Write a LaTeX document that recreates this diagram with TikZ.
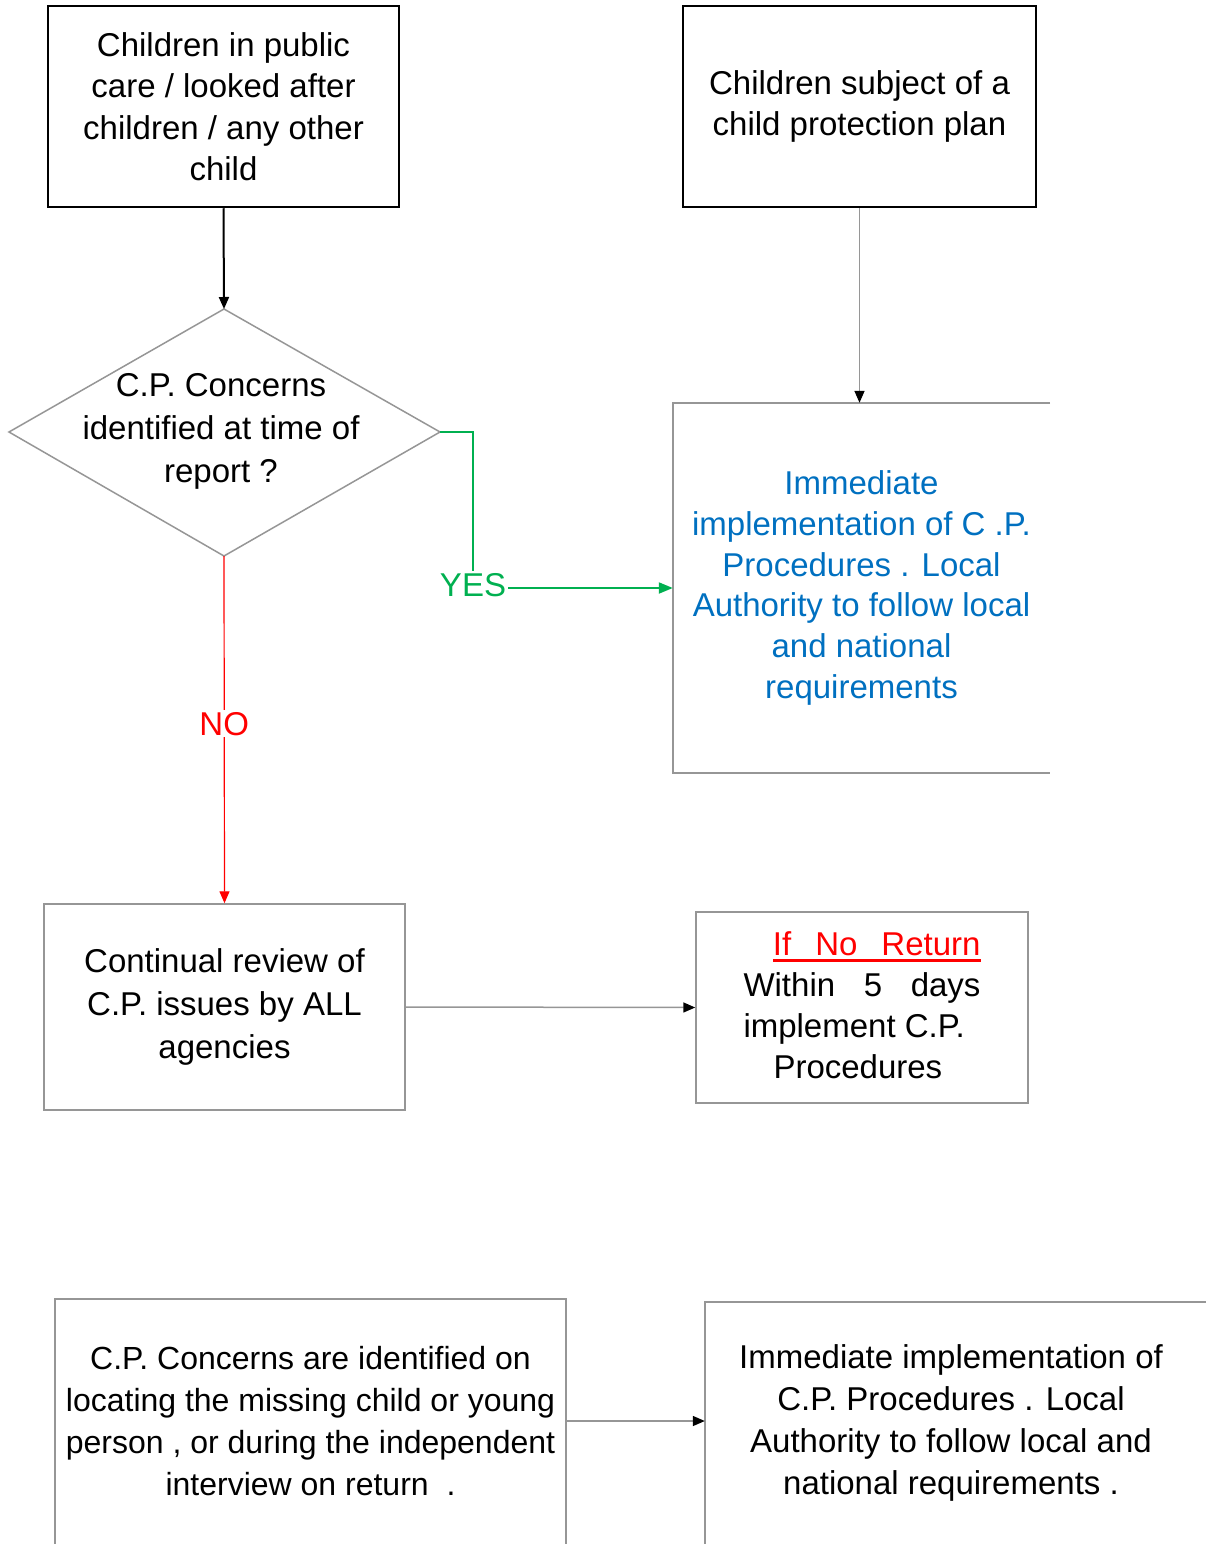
\documentclass[tikz,border=0pt]{standalone}
\usepackage{fontspec}
\setmainfont{Liberation Sans}
\usetikzlibrary{arrows.meta,calc}
\definecolor{cpblue}{RGB}{0,112,192}
\definecolor{cpgreen}{RGB}{0,176,80}
\definecolor{cpgray}{RGB}{150,150,150}
\definecolor{cpred}{RGB}{255,0,0}
\newsavebox\myulbox
\newcommand\myul[1]{\sbox\myulbox{#1}\rlap{\rule[-6pt]{\wd\myulbox}{2.5pt}}\usebox\myulbox}
\begin{document}
\begin{tikzpicture}[x=1pt,y=-1pt,
  txt/.style={font=\fontsize{33}{41.5}\selectfont, align=center, inner sep=0pt},
  blackbox/.style={txt, draw=black, line width=2.5pt},
  graybox/.style={txt, draw=cpgray, line width=1.5pt},
  edge/.style={draw=cpgray, line width=1.5pt},
  tip/.style={-{Triangle[length=12pt,width=10pt,color=black]}},
  lbl/.style={font=\fontsize{33}{41.5}\selectfont, fill=white, inner sep=2pt}]
\useasboundingbox (0,0) rectangle (1206,1544);
\clip (0,0) rectangle (1206,1544);

% top boxes
\node[blackbox, minimum width=351pt, minimum height=201pt] (A) at (223.5,106.5)
  {Children in public\\care / looked after\\children / any other\\child};
\node[blackbox, minimum width=353pt, minimum height=201pt] (B) at (859.5,106.5)
  {Children subject of a\\child protection plan};

% decision diamond
\coordinate (Qt) at (224,309);
\coordinate (Qr) at (440,432);
\coordinate (Qb) at (224,556);
\coordinate (Ql) at (9,432);
\draw[cpgray, line width=1.5pt] (Qt) -- (Qr) -- (Qb) -- (Ql) -- cycle;
\node[txt, font=\fontsize{33}{43}\selectfont] (Q) at (221,431)
  {C.P. Concerns\\identified at time of\\report ?};

% immediate implementation (blue), right side open
\node[txt, font=\fontsize{33}{40.8}\selectfont, text=cpblue, minimum width=377pt, minimum height=370pt] (C) at (861.5,588)
  {Immediate\\implementation of C .P.\\Procedures . Local\\Authority to follow local\\and national\\requirements};
\draw[cpgray, line width=1.5pt] (C.north east) -- (C.north west) -- (C.south west) -- (C.south east);

% continual review
\node[graybox, font=\fontsize{33}{43}\selectfont, minimum width=361pt, minimum height=206pt] (D) at (224.5,1007)
  {Continual review of\\C.P. issues by ALL\\agencies};

% if no return
\node[graybox, font=\fontsize{33}{41}\selectfont, minimum width=332pt, minimum height=191pt] (E) at (862,1007.5)
  {\begin{minipage}{237pt}
   \vspace*{-4pt}
   \hfill{\color{cpred}\myul{If\hspace{24pt}No\hspace{24pt}Return}}\\
   Within\hfill 5\hfill days\\
   implement C.P.\\
   \hspace*{30pt}Procedures
   \end{minipage}};

% bottom boxes (cut by page edge)
\node[txt, font=\fontsize{32}{42}\selectfont, minimum width=511pt, minimum height=244pt] (F) at (310.5,1421)
  {C.P. Concerns are identified on\\locating the missing child or young\\person , or during the independent\\interview on return\ \ .};
\draw[cpgray, line width=1.5pt] (F.south west |- 0,1580) -- (F.north west) -- (F.north east) -- (F.south east |- 0,1580);
\node[txt, font=\fontsize{33}{42}\selectfont, minimum width=492pt, minimum height=242pt] (G) at (951,1423)
  {Immediate implementation of\\C.P. Procedures . Local\\Authority to follow local and\\national requirements .};
\draw[cpgray, line width=1.5pt] (G.south west |- 0,1580) -- (G.north west) -- (G.north west -| 1230,0);

% connectors
\draw[black, line width=2pt, tip] (A.south) -- (Qt);
\draw[edge, tip] (B.south) -- (B.south |- C.north);
\draw[cpgreen, line width=2pt, -{Triangle[length=14pt,width=11pt]}]
  (Qr) -- (473,432) -- (473,588) node[lbl, text=cpgreen, yshift=3pt] {YES} -- (C.west);
\draw[cpred, line width=1.2pt, -{Triangle[length=12pt,width=10pt]}]
  (Qb) -- (D.north) node[pos=0.483, lbl, text=cpred] {NO};
\draw[edge, tip] (D.east) -- (E.west);
\draw[edge, tip] (F.east) -- (F.east -| G.west);
\end{tikzpicture}
\end{document}
